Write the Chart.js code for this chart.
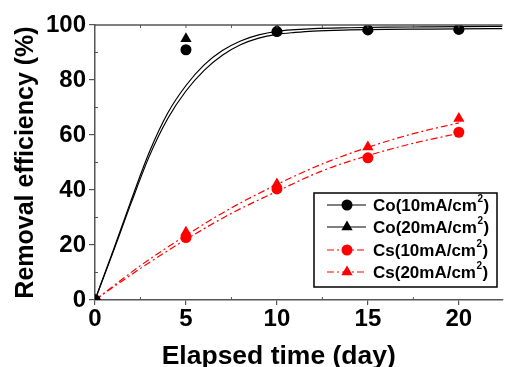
<!DOCTYPE html>
<html>
<head>
<meta charset="utf-8">
<script src="https://cdn.jsdelivr.net/npm/chart.js@4/dist/chart.umd.min.js"></script>
<style>
  html, body { margin: 0; padding: 0; background: #fff; overflow: hidden; }
  #wrap { position: relative; width: 509px; height: 367px; }
</style>
</head>
<body>
<div id="wrap"><canvas id="chart"></canvas></div>
<script>
// ===== measured points =====
const days = [0, 5, 10, 15, 20];
const co10 = [0, 91, 97.6, 98.2, 98.4];
const co20 = [0, 95, 98.3, 98.6, 99];
const cs10 = [0, 22.7, 40.4, 51.7, 61];
const cs20 = [0, 24.6, 42.2, 55.6, 66];

// ===== fitted curves =====
const coFitT = [0, 1, 2, 3, 4, 5, 6, 7, 8, 9, 10, 11, 12, 14, 16, 18, 20, 22.4];
const co10Fit = [0, 17.5, 35.5, 52.5, 66, 76, 83.5, 89, 92.8, 95.2, 96.6, 97.3, 97.8, 98.2, 98.4, 98.5, 98.6, 98.7];
const co20Fit = [0, 18, 36.5, 54, 68, 78, 85.5, 90.7, 94.2, 96.4, 97.7, 98.3, 98.7, 99, 99.2, 99.3, 99.4, 99.5];
const csFitT = [0, 2.5, 5, 7.5, 10, 12.5, 15, 17.5, 20];
const cs10Fit = [0, 11.5, 22, 31.5, 39.5, 47, 52.5, 57, 60.6];
const cs20Fit = [0, 12.5, 23.5, 33.5, 42, 49.5, 55.5, 60.5, 64.4];

const legendLabels = ["Co(10mA/cm", "Co(20mA/cm", "Cs(10mA/cm", "Cs(20mA/cm"];

const FONT = "'Liberation Sans', Arial, sans-serif";
const RED = "#ff0000";
const RED_DASH = [7, 3, 2, 3];

function pts(xs, ys) {
    return xs.map((x, i) => ({ x: x, y: ys[i] }));
}

const markerSets = [
    { label: legendLabels[0], data: pts(days, co10), pointStyle: "circle", pointRadius: 5.5, color: "#000" },
    { label: legendLabels[1], data: pts(days, co20), pointStyle: "triangle", pointRadius: 6.5, color: "#000" },
    { label: legendLabels[2], data: pts(days, cs10), pointStyle: "circle", pointRadius: 5.5, color: RED },
    { label: legendLabels[3], data: pts(days, cs20), pointStyle: "triangle", pointRadius: 6.5, color: RED },
].map(s => ({
    label: s.label,
    data: s.data,
    showLine: false,
    pointStyle: s.pointStyle,
    pointRadius: s.pointRadius,
    pointBackgroundColor: s.color,
    pointBorderColor: s.color,
    pointBorderWidth: 0,
}));

const fitSets = [
    { data: pts(coFitT, co10Fit), color: "#000", dash: [] },
    { data: pts(coFitT, co20Fit), color: "#000", dash: [] },
    { data: pts(csFitT, cs10Fit), color: RED, dash: RED_DASH },
    { data: pts(csFitT, cs20Fit), color: RED, dash: RED_DASH },
].map(s => ({
    label: "",
    data: s.data,
    borderColor: s.color,
    borderWidth: 1.2,
    borderDash: s.dash,
    pointRadius: 0,
    cubicInterpolationMode: "monotone",
    fill: false,
}));

const AXIS = "#555";

// ===== minor ticks, top frame, x title, legend =====
const extras = {
    id: "extras",
    afterDraw(chart) {
        const ctx = chart.ctx;
        const a = chart.chartArea;
        const xs = chart.scales.x, ys = chart.scales.y;
        ctx.save();
        ctx.strokeStyle = AXIS;
        ctx.lineWidth = 1.5;
        // top frame
        ctx.beginPath();
        ctx.moveTo(a.left, a.top);
        ctx.lineTo(a.right, a.top);
        ctx.stroke();
        ctx.lineWidth = 1;
        // minor inward ticks
        ctx.beginPath();
        for (let v = 10; v < 100; v += 20) {
            const py = ys.getPixelForValue(v);
            ctx.moveTo(a.left, py); ctx.lineTo(a.left + 3, py);
        }
        for (let v = 2.5; v < 22; v += 5) {
            const px = xs.getPixelForValue(v);
            ctx.moveTo(px, a.bottom); ctx.lineTo(px, a.bottom - 3);
        }
        for (let v = 2.5; v < 22; v += 2.5) {
            const px = xs.getPixelForValue(v);
            ctx.moveTo(px, a.top); ctx.lineTo(px, a.top + 3);
        }
        ctx.stroke();

        // x title
        ctx.fillStyle = "#000";
        ctx.font = "bold 26.5px " + FONT;
        ctx.textAlign = "center";
        ctx.textBaseline = "alphabetic";
        ctx.fillText("Elapsed time (day)", xs.getPixelForValue(10.1), 364);

        // legend
        const bx = 314, by = 193, bw = 183, bh = 94;
        ctx.strokeStyle = "#000";
        ctx.lineWidth = 1.5;
        ctx.strokeRect(bx, by, bw, bh);
        const rowY = [205, 227, 250, 272];
        for (let i = 0; i < 4; i++) {
            const m = markerSets[i], f = fitSets[i];
            const y = rowY[i];
            ctx.strokeStyle = f.borderColor;
            ctx.lineWidth = 1.2;
            ctx.setLineDash(f.borderDash);
            ctx.beginPath();
            ctx.moveTo(327, y); ctx.lineTo(366, y);
            ctx.stroke();
            ctx.setLineDash([]);
            ctx.fillStyle = m.pointBackgroundColor;
            ctx.strokeStyle = m.pointBorderColor;
            Chart.helpers.drawPoint(ctx, {
                pointStyle: m.pointStyle, radius: m.pointRadius, rotation: 0, borderWidth: 0
            }, 347, y);
            ctx.fillStyle = "#000";
            ctx.textAlign = "left";
            ctx.textBaseline = "middle";
            ctx.font = "bold 17px " + FONT;
            ctx.fillText(legendLabels[i], 373, y + 1);
            const w = ctx.measureText(legendLabels[i]).width;
            ctx.font = "bold 10px " + FONT;
            ctx.fillText("2", 373 + w + 0.5, y - 6);
            const w2 = ctx.measureText("2").width;
            ctx.font = "bold 17px " + FONT;
            ctx.fillText(")", 373 + w + w2 + 1, y + 1);
        }
        ctx.restore();
    }
};

new Chart(document.getElementById("chart"), {
    type: "line",
    data: { datasets: [...markerSets, ...fitSets] },
    options: {
        responsive: true,
        maintainAspectRatio: false,
        animation: false,
        layout: { padding: { top: 25, right: 0, bottom: 0, left: 0 } },
        plugins: { legend: { display: false }, tooltip: { enabled: false } },
        scales: {
            x: {
                type: "linear",
                min: 0,
                max: 22.4,
                afterFit(scale) { scale.height = 67; },
                afterBuildTicks(scale) {
                    scale.ticks = [0, 5, 10, 15, 20].map(v => ({ value: v }));
                },
                ticks: {
                    color: "#000",
                    font: { family: FONT, size: 24, weight: "bold" },
                    padding: 0,
                    maxRotation: 0,
                    autoSkip: false,
                },
                grid: { drawOnChartArea: false, tickLength: 5, color: AXIS, lineWidth: 1.2 },
                border: { color: AXIS, width: 1.5 },
                title: { display: false },
            },
            y: {
                min: 0,
                max: 100,
                afterFit(scale) { scale.width = 95; },
                ticks: {
                    stepSize: 20,
                    color: "#000",
                    font: { family: FONT, size: 24, weight: "bold" },
                    padding: 3,
                },
                grid: { drawOnChartArea: false, tickLength: 6, color: AXIS, lineWidth: 1.2 },
                border: { color: AXIS, width: 1.5 },
                title: {
                    display: true,
                    text: "Removal efficiency (%)",
                    color: "#000",
                    font: { family: FONT, size: 25, weight: "bold" },
                    padding: { top: 11, bottom: 0 },
                },
            },
        },
    },
    plugins: [extras],
});
</script>
</body>
</html>
